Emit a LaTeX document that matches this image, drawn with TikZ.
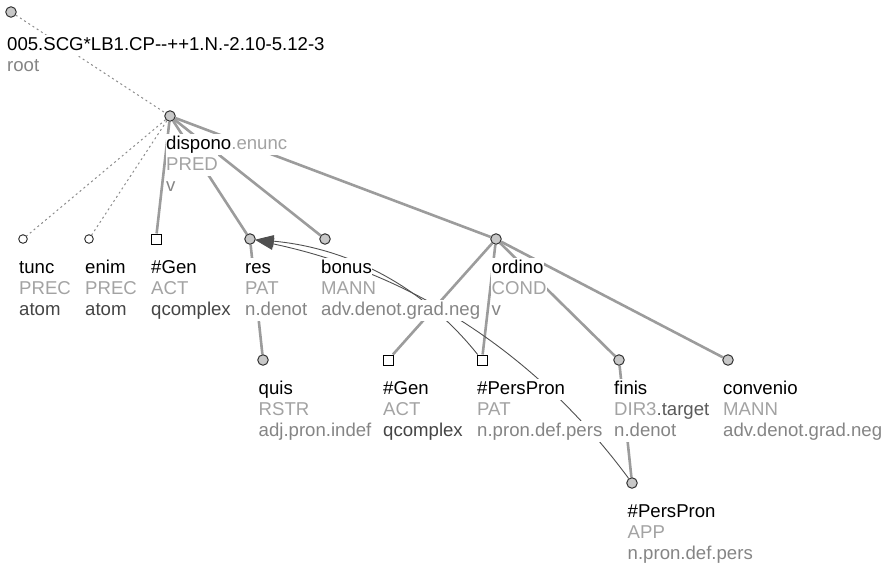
\documentclass[tikz,border=0pt]{standalone}
\usepackage{fontspec}
\setmainfont{Liberation Sans}
\usetikzlibrary{arrows.meta,backgrounds}
\definecolor{edgegray}{HTML}{9C9C9C}
\definecolor{fungray}{HTML}{A3A3A3}
\definecolor{formgray}{HTML}{858585}
\definecolor{darktxt}{HTML}{454545}
\definecolor{targetcol}{HTML}{5A5A5A}
\definecolor{nodefill}{HTML}{C8C8C8}
\definecolor{corefcol}{HTML}{505050}
\tikzset{
 gnode/.style={circle,fill=nodefill,draw=black!80,line width=1pt,inner sep=0pt,minimum size=10.5pt},
 wnode/.style={circle,fill=white,draw=black!85,line width=0.9pt,inner sep=0pt,minimum size=8.6pt},
 snode/.style={rectangle,fill=white,draw=black,line width=1pt,inner sep=0pt,minimum size=10pt},
 txt/.style={anchor=base west,fill=white,inner xsep=0.5pt,inner ysep=0pt,text height=15.5pt,text depth=5.5pt,font=\fontsize{18.6pt}{21pt}\selectfont},
 edge/.style={draw=edgegray,line width=2.6pt},
 dotedge/.style={draw=edgegray!90!black,line width=1pt,dash pattern=on 2pt off 3pt},
 coref/.style={draw=corefcol,line width=0.9pt,-{Triangle[length=18pt,width=12pt]}},
}
\newcommand\lbl[7]{%
 \node[txt] (#1-a) at (#2,#3) {#4};
 \node[txt,text=fungray] (#1-b) at (#2,#3+21) {#5};
 \node[txt,text=#6] (#1-c) at (#2,#3+42) {#7};}
\begin{document}
\begin{tikzpicture}[x=1pt,y=-1pt]
\useasboundingbox (0,0) rectangle (885,565);
% nodes
\node[gnode] (root) at (11,12) {};
\node[gnode] (disp) at (170,116) {};
\node[wnode] (tunc) at (23,239) {};
\node[wnode] (enim) at (89,239) {};
\node[snode] (gen1) at (156,239) {};
\node[gnode] (res) at (250,239) {};
\node[gnode] (bon) at (325,239) {};
\node[gnode] (ord) at (496,239) {};
\node[gnode] (quis) at (263,360) {};
\node[snode] (gen2) at (388,360) {};
\node[snode] (pp1) at (482,360) {};
\node[gnode] (fin) at (619,360) {};
\node[gnode] (conv) at (728,360) {};
\node[gnode] (pp2) at (632,483) {};
% labels
\node[txt] (root-a) at (6.5,50) {005.SCG*LB1.CP-{}-++1.N.-2.10-5.12-3};
\node[txt,text=formgray] (root-b) at (6.5,71) {root};
\lbl{disp}{165.5}{149}{dispono\textcolor{fungray}{.enunc}}{PRED}{formgray}{v}
\lbl{tunc}{18.5}{273}{tunc}{PREC}{darktxt}{atom}
\lbl{enim}{84.5}{273}{enim}{PREC}{darktxt}{atom}
\lbl{gen1}{150.5}{273}{\#Gen}{ACT}{darktxt}{qcomplex}
\lbl{res}{244.5}{273}{res}{PAT}{formgray}{n.denot}
\lbl{bon}{320.5}{273}{bonus}{MANN}{formgray}{adv.denot.grad.neg}
\lbl{ord}{491}{273}{ordino}{COND}{formgray}{v}
\lbl{quis}{258}{394}{quis}{RSTR}{formgray}{adj.pron.indef}
\lbl{gen2}{382.5}{394}{\#Gen}{ACT}{darktxt}{qcomplex}
\lbl{pp1}{476.5}{394}{\#PersPron}{PAT}{formgray}{n.pron.def.pers}
\lbl{fin}{613.5}{394}{finis}{DIR3\textcolor{targetcol}{.target}}{formgray}{n.denot}
\lbl{conv}{722.5}{394}{convenio}{MANN}{formgray}{adv.denot.grad.neg}
\lbl{pp2}{627}{517}{\#PersPron}{APP}{formgray}{n.pron.def.pers}
% edges
\begin{scope}[on background layer]
\draw[dotedge] (root) -- (disp);
\draw[dotedge] (disp) -- (tunc);
\draw[dotedge] (disp) -- (enim);
\draw[edge] (disp) -- (gen1);
\draw[edge] (disp) -- (res);
\draw[edge] (disp) -- (bon);
\draw[edge] (disp) -- (ord);
\draw[edge] (res) -- (quis);
\draw[edge] (ord) -- (gen2);
\draw[edge] (ord) -- (pp1);
\draw[edge] (ord) -- (fin);
\draw[edge] (ord) -- (conv);
\draw[edge] (fin) -- (pp2);
\draw[coref] (pp1) .. controls (423,286) and (348,248) .. (res);
\draw[coref] (pp2) .. controls (536,353) and (411,273) .. (res);
\end{scope}
\end{tikzpicture}
\end{document}
